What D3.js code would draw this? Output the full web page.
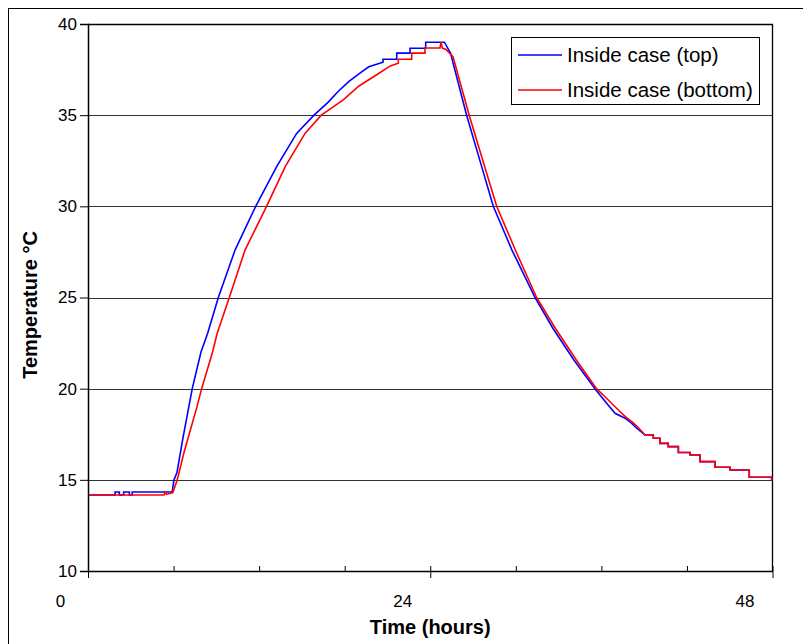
<!DOCTYPE html>
<html>
<head>
<meta charset="utf-8">
<script src="https://cdn.jsdelivr.net/npm/d3@7"></script>
<style>
  body { margin: 0; background: #fff; }
  svg { font-family: "Liberation Sans", Arial, sans-serif; }
</style>
</head>
<body>
<svg id="chart" width="803" height="644"></svg>
<script>
// Series names
const seriesNames = ["Inside case (top)", "Inside case (bottom)"];
const seriesColors = ["#0000ff", "#ff0000"];

// Time (hours) / temperature (°C)
const topHours = [0, 1.9, 1.9, 2.2, 2.2, 2.5, 2.5, 2.9, 2.9, 3.1, 3.1, 5.9,
  6.03, 6.24, 6.66, 7.31, 7.92, 8.39, 9.14, 10.31, 11.76, 13.23, 14.63,
  15.85, 16.83, 17.54, 18.3, 19.07, 19.69, 20.69, 20.69, 21.65,
  21.65, 22.58, 22.58, 23.68, 23.68, 24.99, 25.42, 26.55, 27.56, 28.42, 29.73,
  31.35, 32.61, 34.05, 35.55, 35.9, 36.37, 36.96, 37.66, 38.13, 38.48, 39.06,
  39.64, 39.64, 40.11, 40.11, 40.69, 40.69, 41.4, 41.4, 42.22, 42.22, 42.92,
  42.92, 43.97, 43.97, 45.02, 45.02, 46.37, 46.37, 47.94, 47.94, 48];
const topTemps = [14.17, 14.17, 14.33, 14.33, 14.17, 14.17, 14.33, 14.33, 14.17, 14.17, 14.33, 14.33,
  15.0, 15.4, 17.3, 20.0, 22.0, 23.04, 25.0, 27.6, 30.0, 32.18, 34.0,
  35.0, 35.7, 36.3, 36.85, 37.3, 37.65, 37.9, 38.07, 38.07,
  38.4, 38.4, 38.67, 38.67, 39.0, 39.0, 38.4, 35.0, 32.3, 30.0, 27.6,
  25.0, 23.3, 21.6, 20.0, 19.65, 19.2, 18.65, 18.38, 18.1, 17.83, 17.46,
  17.46, 17.28, 17.28, 17.0, 17.0, 16.82, 16.82, 16.5, 16.5, 16.36, 16.36,
  16.0, 16.0, 15.69, 15.69, 15.54, 15.54, 15.14, 15.14, 15.03, 15.0];

const bottomHours = [0, 5.33, 5.4, 5.5, 5.95,
  6.26, 6.73, 7.64, 7.97, 8.73, 9.06, 9.91, 11.01, 12.52, 13.83, 15.22,
  16.36, 17.9, 19.0, 20.41, 21.2, 21.76, 21.76, 22.7, 22.7, 23.63,
  23.63, 24.68, 24.75, 24.85, 25.1, 25.6, 26.73, 27.77, 28.66, 30.08, 31.46,
  32.78, 34.22, 35.66, 36.2, 37.1, 37.7, 38.2, 38.55, 39.06,
  39.64, 39.64, 40.11, 40.11, 40.69, 40.69, 41.4, 41.4, 42.22, 42.22, 42.92,
  42.92, 43.97, 43.97, 45.02, 45.02, 46.37, 46.37, 47.94, 47.94, 48];
const bottomTemps = [14.17, 14.17, 14.33, 14.2, 14.3,
  15.0, 16.5, 19.0, 20.0, 22.0, 23.04, 25.0, 27.6, 30.0, 32.18, 34.0,
  35.0, 35.84, 36.6, 37.3, 37.7, 37.85, 38.07, 38.07, 38.4, 38.4,
  38.68, 38.68, 39.0, 38.68, 38.6, 38.2, 35.0, 32.3, 30.0, 27.4, 25.0,
  23.3, 21.6, 20.0, 19.6, 18.9, 18.45, 18.15, 17.9, 17.46,
  17.46, 17.28, 17.28, 17.0, 17.0, 16.82, 16.82, 16.5, 16.5, 16.36, 16.36,
  16.0, 16.0, 15.69, 15.69, 15.54, 15.54, 15.14, 15.14, 15.03, 15.0];

// Axis ticks
const yTicks = [10, 15, 20, 25, 30, 35, 40];
const xMajorTicks = [0, 24, 48];
const xMinorTicks = [0, 6, 12, 18, 24, 30, 36, 42, 48];

const svg = d3.select('#chart');

// Outer frame of the chart area
svg.append('rect')
  .attr('x', 8.5).attr('y', 8.5)
  .attr('width', 820).attr('height', 660)
  .attr('fill', 'none').attr('stroke', '#000').attr('stroke-width', 1);

const plot = { left: 88, right: 772.5, top: 24, bottom: 571 };

const x = d3.scaleLinear().domain([0, 48]).range([plot.left, plot.right]);
const y = d3.scaleLinear().domain([10, 40]).range([plot.bottom, plot.top]);

// Gridlines
svg.append('g')
  .selectAll('line')
  .data(yTicks.filter(d => d > 10 && d < 40))
  .enter()
  .append('line')
  .attr('x1', plot.left).attr('x2', plot.right)
  .attr('y1', d => Math.round(y(d)) + 0.5)
  .attr('y2', d => Math.round(y(d)) + 0.5)
  .attr('stroke', '#333')
  .attr('stroke-width', 1);

// Plot border (top and right)
svg.append('path')
  .attr('d', `M${plot.left},${plot.top + 0.5}H${plot.right}V${plot.bottom}`)
  .attr('fill', 'none')
  .attr('stroke', '#000')
  .attr('stroke-width', 1.3);

// Lines
const line = d3.line()
  .x(d => x(d[0]))
  .y(d => y(d[1]));

const series = [
  d3.zip(topHours, topTemps),
  d3.zip(bottomHours, bottomTemps)
];

series.forEach((pts, i) => {
  svg.append('path')
    .datum(pts)
    .attr('d', line)
    .attr('fill', 'none')
    .attr('stroke', seriesColors[i])
    .attr('stroke-width', 1.6)
    .attr('stroke-linejoin', 'miter');
});

// Y axis
const yAxis = svg.append('g')
  .attr('transform', `translate(${plot.left},0)`)
  .call(d3.axisLeft(y).tickValues(yTicks).tickSize(8).tickPadding(3).tickFormat(d3.format('d')));
yAxis.select('.domain').attr('stroke-width', 1.5);
yAxis.selectAll('text').attr('font-size', 17).attr('fill', '#000');

// X axis: minor ticks pointing into the plot
const xMinor = svg.append('g')
  .attr('transform', `translate(0,${plot.bottom})`)
  .call(d3.axisBottom(x).tickValues(xMinorTicks).tickSizeInner(-5).tickSizeOuter(0).tickFormat(''));
xMinor.select('.domain').attr('stroke-width', 1.5);

// X axis: major ticks with labels
const xMajor = svg.append('g')
  .attr('transform', `translate(0,${plot.bottom})`)
  .call(d3.axisBottom(x).tickValues(xMajorTicks).tickSize(7).tickPadding(17).tickFormat(d3.format('d')));
xMajor.select('.domain').remove();
xMajor.selectAll('text').attr('font-size', 17).attr('fill', '#000').attr('dx', -28);

// Axis titles
svg.append('text')
  .attr('x', (plot.left + plot.right) / 2)
  .attr('y', 634)
  .attr('text-anchor', 'middle')
  .attr('font-size', 20)
  .attr('font-weight', 'bold')
  .text('Time (hours)');

svg.append('text')
  .attr('transform', 'translate(37,305) rotate(-90)')
  .attr('text-anchor', 'middle')
  .attr('font-size', 20)
  .attr('font-weight', 'bold')
  .text('Temperature °C');

// Legend
const legend = svg.append('g');
legend.append('rect')
  .attr('x', 511.5).attr('y', 37.5)
  .attr('width', 248).attr('height', 67)
  .attr('fill', '#fff').attr('stroke', '#000');

seriesNames.forEach((name, i) => {
  const ly = 55 + i * 35;
  legend.append('line')
    .attr('x1', 518).attr('x2', 562)
    .attr('y1', ly).attr('y2', ly)
    .attr('stroke', seriesColors[i])
    .attr('stroke-width', 1.6);
  legend.append('text')
    .attr('x', 567)
    .attr('y', ly + 7)
    .attr('font-size', 20.5)
    .text(name);
});
</script>
</body>
</html>
